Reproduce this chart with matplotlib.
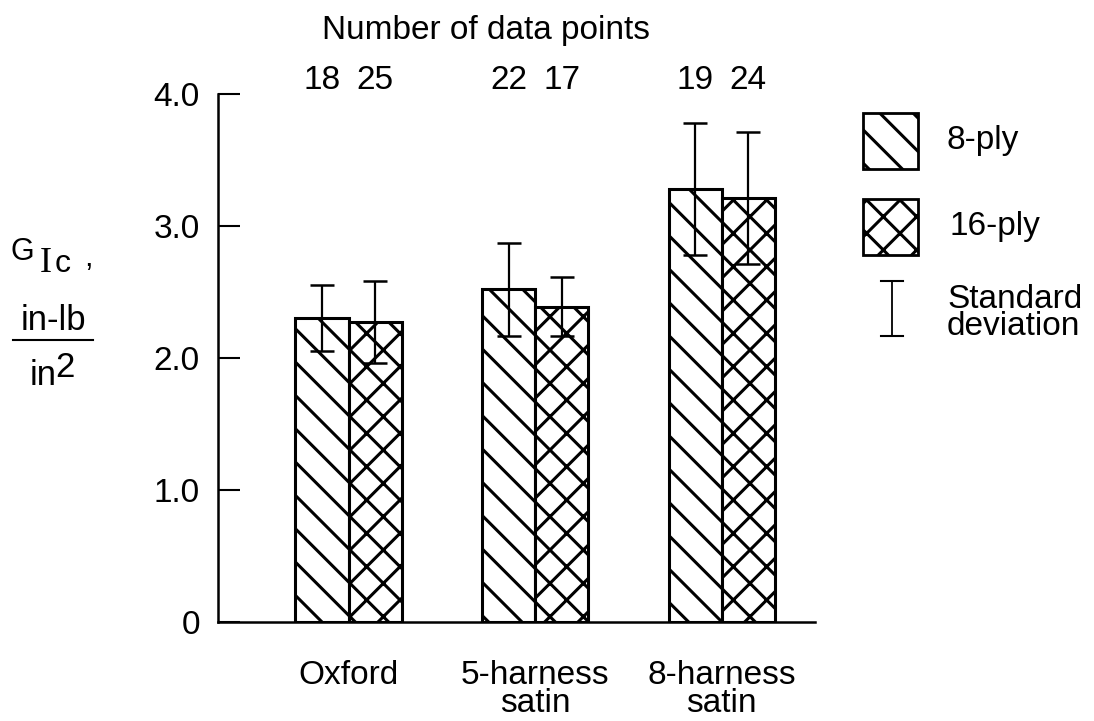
import matplotlib
matplotlib.use("Agg")
import matplotlib.pyplot as plt
from matplotlib.patches import Rectangle
from matplotlib.lines import Line2D
import numpy as np

categories = ["Oxford", "5-harness\nsatin", "8-harness\nsatin"]
series_names = ["8-ply", "16-ply"]
ply8_values = [2.30, 2.52, 3.28]
ply16_values = [2.27, 2.39, 3.21]
ply8_std = [0.25, 0.35, 0.50]
ply16_std = [0.31, 0.22, 0.50]
ply8_counts = ["18", "22", "19"]
ply16_counts = ["25", "17", "24"]
yticks = [0, 1.0, 2.0, 3.0, 4.0]
ytick_labels = ["0", "1.0", "2.0", "3.0", "4.0"]

plt.rcParams['font.family'] = ['Liberation Sans', 'DejaVu Sans']
plt.rcParams['hatch.linewidth'] = 2.2
plt.rcParams['hatch.color'] = 'black'

FS = 24
W, H = 1094, 721
fig = plt.figure(figsize=(W/100, H/100), dpi=100)
ax = fig.add_axes([218/W, 1-622/H, (815-218)/W, (622-94)/H])

x = np.arange(len(categories))
bw = 0.285
ax.bar(x - bw/2, ply8_values, bw, facecolor='white', edgecolor='black',
       linewidth=2.2, hatch='\\', zorder=2)
ax.bar(x + bw/2, ply16_values, bw, facecolor='white', edgecolor='black',
       linewidth=2.2, hatch='x', zorder=2)
ax.errorbar(x - bw/2, ply8_values, yerr=ply8_std, fmt='none', ecolor='black',
            elinewidth=1.6, capsize=8.3, capthick=1.8, zorder=3)
ax.errorbar(x + bw/2, ply16_values, yerr=ply16_std, fmt='none', ecolor='black',
            elinewidth=1.6, capsize=8.3, capthick=1.8, zorder=3)

ax.set_xlim(-0.7, 2.5)
ax.set_ylim(0, 4.0)
ax.set_yticks(yticks)
ax.set_yticklabels(ytick_labels)
ax.set_xticks(x)
ax.set_xticklabels(categories, linespacing=0.88)
ax.tick_params(axis='x', length=0, pad=27, labelsize=FS)
ax.tick_params(axis='y', direction='in', length=16, width=1.5, pad=13, labelsize=FS)
for s in ['top', 'right']:
    ax.spines[s].set_visible(False)
for s in ['left', 'bottom']:
    ax.spines[s].set_linewidth(1.8)

# counts above bars
for i in range(len(categories)):
    ax.text(x[i] - bw/2, 4.1, ply8_counts[i], ha='center', va='center', fontsize=FS,
            clip_on=False)
    ax.text(x[i] + bw/2, 4.1, ply16_counts[i], ha='center', va='center', fontsize=FS,
            clip_on=False)

fig.text(486/W, 1-30/H, "Number of data points", ha='center', va='center', fontsize=FS)

# y label
fig.text(11/W, 1-260/H, "G", ha='left', va='baseline', fontsize=22)
fig.text(40/W, 1-272/H, "I", ha='left', va='baseline', fontsize=26, family='Liberation Serif')
fig.text(55/W, 1-272/H, "c", ha='left', va='baseline', fontsize=23)
fig.text(84/W, 1-266/H, ",", ha='left', va='baseline', fontsize=22)
fig.text(53/W, 1-330/H, "in-lb", ha='center', va='baseline', fontsize=25)
fig.add_artist(Line2D([13/W, 93/W], [1-340/H, 1-340/H], color='black', linewidth=1.5,
                      transform=fig.transFigure))
fig.text(30/W, 1-385/H, "in", ha='left', va='baseline', fontsize=25)
fig.text(55/W, 1-377/H, "2", ha='left', va='baseline', fontsize=25)

# legend
fig.add_artist(Rectangle((863/W, 1-169/H), 55/W, 56/H, transform=fig.transFigure,
                         facecolor='white', edgecolor='black', linewidth=2.0, hatch='\\'))
fig.add_artist(Rectangle((863/W, 1-255/H), 55/W, 56/H, transform=fig.transFigure,
                         facecolor='white', edgecolor='black', linewidth=2.0, hatch='x'))
fig.text(947/W, 1-140/H, series_names[0], ha='left', va='center', fontsize=FS)
fig.text(949/W, 1-226/H, series_names[1], ha='left', va='center', fontsize=FS)
lx = 892/W
fig.add_artist(Line2D([lx, lx], [1-281/H, 1-336/H], color='black', linewidth=1.3,
                      transform=fig.transFigure))
fig.add_artist(Line2D([lx-11/W, lx+11/W], [1-281/H, 1-281/H], color='black', linewidth=1.5,
                      transform=fig.transFigure))
fig.add_artist(Line2D([lx-11/W, lx+11/W], [1-336/H, 1-336/H], color='black', linewidth=1.5,
                      transform=fig.transFigure))
fig.text(947/W, 1-313/H, "Standard\ndeviation", ha='left', va='center', fontsize=FS,
         linespacing=0.85)

fig.savefig("out.png", dpi=100)
